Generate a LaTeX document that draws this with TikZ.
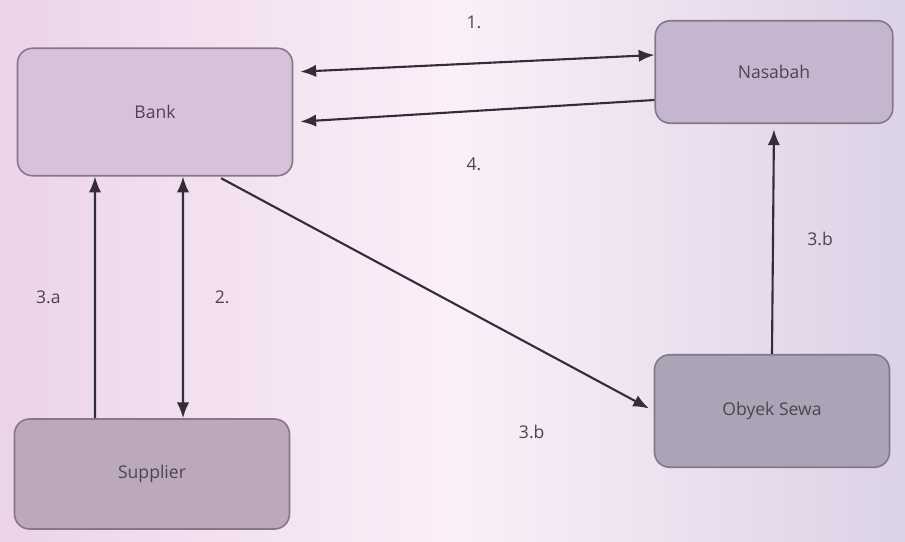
\documentclass[tikz,border=0pt]{standalone}
\usepackage{fontspec}
\setmainfont{Open Sans}
\usetikzlibrary{arrows.meta}
\definecolor{bgpink}{HTML}{EBD3EA}
\definecolor{bgwhite}{HTML}{FBEFF8}
\definecolor{bglav}{HTML}{DCD2E6}
\definecolor{rim}{HTML}{857788}
\definecolor{ink}{HTML}{352C3A}
\definecolor{txt}{HTML}{4E4450}
\definecolor{bankfill}{HTML}{D6C3D9}
\definecolor{nasfill}{HTML}{C5B5CE}
\definecolor{supfill}{HTML}{BBA8BC}
\definecolor{objfill}{HTML}{ABA3B6}
\begin{document}
\begin{tikzpicture}[
  >={Latex[length=9pt,width=7pt]},
  box/.style={draw=rim, line width=0.9pt, rounded corners=0.3cm, minimum height=2.3cm, text=txt},
  lbl/.style={text=txt},
  flow/.style={draw=ink, line width=1.2pt}]
  \useasboundingbox (0,0) rectangle (18.1,10.82);
  \shade[left color=bgpink, right color=bglav, middle color=bgwhite] (0,0) rectangle (18.1,10.82);

  \node[box, fill=bankfill, minimum width=5.5cm, minimum height=2.55cm] (bank) at (3.1,8.58) {Bank};
  \node[box, fill=nasfill, minimum width=4.75cm, minimum height=2.05cm] (nasabah) at (15.48,9.38) {Nasabah};
  \node[box, fill=supfill, minimum width=5.5cm, minimum height=2.2cm] (supplier) at (3.04,1.34) {Supplier};
  \node[box, fill=objfill, minimum width=4.7cm, minimum height=2.25cm] (obyek) at (15.44,2.6) {Obyek Sewa};

  \draw[flow, <->, shorten <=4pt] ([yshift=0.8cm]bank.east) -- ([yshift=0.34cm]nasabah.west)
    node[lbl, midway, above=0.55cm] (l1) {1.};
  \draw[flow, ->, shorten >=4pt] ([yshift=-0.56cm]nasabah.west) -- ([yshift=-0.2cm]bank.east)
    node[lbl, midway, below=0.8cm] (l4) {4.};
  \draw[flow, ->] ([xshift=-1.14cm]supplier.north) -- ([xshift=-1.2cm]bank.south)
    node[lbl, midway, left=0.55cm] (l3a) {3.a};
  \draw[flow, <->] ([xshift=0.62cm]supplier.north) -- ([xshift=0.56cm]bank.south)
    node[lbl, midway, right=0.5cm] (l2) {2.};
  \draw[flow, ->, shorten <=2pt, shorten >=3pt] ([xshift=1.26cm]bank.south) -- (obyek.west)
    node[lbl, pos=0.72, below=1.45cm] (l3b) {3.b};
  \draw[flow, ->, shorten >=3pt] (obyek.north) -- (nasabah.south)
    node[lbl, midway, right=0.55cm] (l3bb) {3.b};
\end{tikzpicture}
\end{document}
